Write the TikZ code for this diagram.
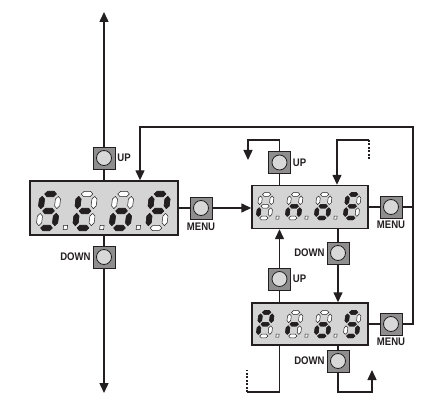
\documentclass[tikz,border=0pt]{standalone}
\usepackage{fontspec}
\setmainfont{Liberation Sans}
\usetikzlibrary{arrows.meta,positioning}
\definecolor{linedark}{HTML}{231F20}
\definecolor{panelgray}{HTML}{D4D4D4}
\definecolor{keygray}{HTML}{8E8E8E}
\definecolor{keylight}{HTML}{D8D8D8}

\tikzset{
  segoff/.style={fill=white,draw=linedark,line width=.5pt},
  segon/.style={fill=linedark,draw=linedark,line width=.6pt}
}
% segment outlines, in digit units (width 1, height 2, y upwards)
\newcommand\hseg[2]{\filldraw[#1]
  ({\digx+\digw*.14+\digs*(#2)},{\digy-\digh*(#2)}) --
  ({\digx+\digw*.30+\digs*(#2+.16)},{\digy-\digh*(#2+.16)}) --
  ({\digx+\digw*.70+\digs*(#2+.16)},{\digy-\digh*(#2+.16)}) --
  ({\digx+\digw*.86+\digs*(#2)},{\digy-\digh*(#2)}) --
  ({\digx+\digw*.70+\digs*(#2-.16)},{\digy-\digh*(#2-.16)}) --
  ({\digx+\digw*.30+\digs*(#2-.16)},{\digy-\digh*(#2-.16)}) -- cycle;}
\newcommand\vseg[3]{\filldraw[#1]
  ({\digx+\digw*(#2)+\digs*(#3+.14)},{\digy-\digh*(#3+.14)}) --
  ({\digx+\digw*(#2+.16)+\digs*(#3+.30)},{\digy-\digh*(#3+.30)}) --
  ({\digx+\digw*(#2+.16)+\digs*(#3+.70)},{\digy-\digh*(#3+.70)}) --
  ({\digx+\digw*(#2)+\digs*(#3+.86)},{\digy-\digh*(#3+.86)}) --
  ({\digx+\digw*(#2-.16)+\digs*(#3+.70)},{\digy-\digh*(#3+.70)}) --
  ({\digx+\digw*(#2-.16)+\digs*(#3+.30)},{\digy-\digh*(#3+.30)}) -- cycle;}
\newcommand\sega[1]{\hseg{#1}{2}}
\newcommand\segb[1]{\vseg{#1}{1}{1}}
\newcommand\segc[1]{\vseg{#1}{1}{0}}
\newcommand\segd[1]{\hseg{#1}{0}}
\newcommand\sege[1]{\vseg{#1}{0}{0}}
\newcommand\segf[1]{\vseg{#1}{0}{1}}
\newcommand\segg[1]{\hseg{#1}{1}}
\newcommand\segdigit[5]{%
  \def\digx{#1}\def\digy{#2}\def\digw{#3}\def\digh{#4}\def\digs{.12*#4}%
  \foreach \s in {a,b,c,d,e,f,g}{\csname seg\s\endcsname{segoff}}
  \foreach \s in {#5}{\csname seg\s\endcsname{segon}}}
\newcommand\segdot[4]{%
  \def\digx{#1}\def\digy{#2}\def\digw{#3}\def\digh{#4}\def\digs{.12*#4}%
  \filldraw[segoff]
    ({\digx+\digw*1.55+\digs*(-.1)},{\digy-\digh*(-.1)}) --
    ({\digx+\digw*1.8+\digs*(-.1)},{\digy-\digh*(-.1)}) --
    ({\digx+\digw*1.8+\digs*.15},{\digy-\digh*.15}) --
    ({\digx+\digw*1.55+\digs*.15},{\digy-\digh*.15}) -- cycle;}

\begin{document}
\begin{tikzpicture}[x=1pt,y=-1pt,
  >={Triangle[width=9pt,length=10pt]},
  flow/.style={draw=linedark,line width=1.4pt},
  tick/.style={draw=linedark,line width=1.4pt,dash pattern=on 2pt off 1.5pt},
  panel/.style={draw=linedark,line width=1.4pt,fill=panelgray,inner sep=0pt},
  key/.style={draw=linedark,line width=.8pt,fill=keygray,minimum size=22pt,inner sep=0pt,
    path picture={\filldraw[fill=keylight,draw=linedark,line width=.8pt]
      (path picture bounding box.center) circle (7.5pt);}},
  keylabel/.style={font=\fontsize{11}{11}\selectfont\bfseries,text=linedark,inner sep=1pt,xscale=.87}
]
  \useasboundingbox (0,0) rectangle (426,401);

  \node[panel,minimum width=148pt,minimum height=54pt] (stop) at (104,208) {};
  \node[panel,minimum width=116pt,minimum height=43pt] (init) at (310,207) {};
  \node[panel,minimum width=116pt,minimum height=42pt] (prog) at (310,324) {};

  \node[key] (upstop) at (104,158) {};
  \node[key] (downstop) at (104,257) {};
  \node[key] (menustop) at (201,208) {};
  \node[key] (upinit) at (279.5,162.5) {};
  \node[key] (menuinit) at (391,207) {};
  \node[key] (downinit) at (338,253) {};
  \node[key] (upprog) at (279.5,279) {};
  \node[key] (menuprog) at (391,324) {};
  \node[key] (downprog) at (338,361) {};

  \node[keylabel,right=1pt of upstop] (upstoplbl) {UP};
  \node[keylabel,left=1pt of downstop] (downstoplbl) {DOWN};
  \node[keylabel,below=2pt of menustop] (menustoplbl) {MENU};
  \node[keylabel,right=1pt of upinit] (upinitlbl) {UP};
  \node[keylabel,below=1pt of menuinit] (menuinitlbl) {MENU};
  \node[keylabel,left=1pt of downinit] (downinitlbl) {DOWN};
  \node[keylabel,right=1pt of upprog] (upproglbl) {UP};
  \node[keylabel,below=1pt of menuprog] (menuproglbl) {MENU};
  \node[keylabel,left=1pt of downprog] (downproglbl) {DOWN};

  \coordinate (topend) at (104,12);
  \coordinate (botend) at (104,393);
  \draw[flow] (stop) -- (upstop);
  \draw[flow,->] (upstop) -- (topend);
  \draw[flow] (stop) -- (downstop);
  \draw[flow,->] (downstop) -- (botend);

  \coordinate (loopright) at (413,127);
  \coordinate (loopleft) at (140,127);
  \draw[flow,->] (menuprog) -| (loopright) -- (loopleft) -- (loopleft |- stop.north);
  \draw[flow] (menuinit) -- (menuinit -| loopright);

  \draw[flow] (stop) -- (menustop);
  \draw[flow,->] (menustop) -- (menustop -| init.west);
  \draw[flow] (init) -- (menuinit);

  \coordinate (upinitturn) at (248,140);
  \draw[flow] (upinit |- init.north) -- (upinit);
  \draw[flow,->] (upinit) |- (upinitturn) -- ++(0,20);
  \coordinate (initin) at (337,140);
  \coordinate (initdash) at (369,140);
  \draw[tick] (initdash) -- ++(0,20);
  \draw[flow,->] (initdash) -- (initin) -- (initin |- init.north);

  \draw[flow] (downinit |- init.south) -- (downinit);
  \draw[flow,->] (downinit) -- (downinit |- prog.north);
  \draw[flow] (upprog |- prog.north) -- (upprog);
  \draw[flow,->] (upprog) -- (upprog |- init.south);
  \draw[flow] (prog) -- (menuprog);

  \coordinate (downprogturn) at (372,392);
  \draw[flow] (downprog |- prog.south) -- (downprog);
  \draw[flow,->] (downprog) |- (downprogturn) -- ++(0,-22);
  \coordinate (progout) at (247,392);
  \draw[flow] (upprog |- prog.south) |- (progout);
  \draw[tick] (progout) -- ++(0,-22);

  \segdigit{38.5}{228}{16}{17}{a,f,g,c,d}
  \segdigit{75}{228}{16}{17}{f,g,e,d}
  \segdigit{111.5}{228}{16}{17}{g,e,c,d}
  \segdigit{148}{228}{16}{17}{a,b,f,g,e}
  \foreach \dx in {0,36.5,73} {\segdot{38.5+\dx}{228}{16}{17}}

  \segdigit{258}{218}{11.6}{11.8}{e}
  \segdigit{287}{218}{11.6}{11.8}{c,e,g}
  \segdigit{316}{218}{11.6}{11.8}{c,d,e,g}
  \segdigit{345}{218}{11.6}{11.8}{a,d,e,f,g}
  \foreach \dx in {0,29,58} {\segdot{258+\dx}{218}{11.6}{11.8}}

  \segdigit{258}{336}{11.6}{11.8}{a,b,e,f,g}
  \segdigit{287}{336}{11.6}{11.8}{e,g}
  \segdigit{316}{336}{11.6}{11.8}{c,d,e,g}
  \segdigit{345}{336}{11.6}{11.8}{a,c,d,f,g}
  \foreach \dx in {0,29,58} {\segdot{258+\dx}{336}{11.6}{11.8}}
\end{tikzpicture}
\end{document}
